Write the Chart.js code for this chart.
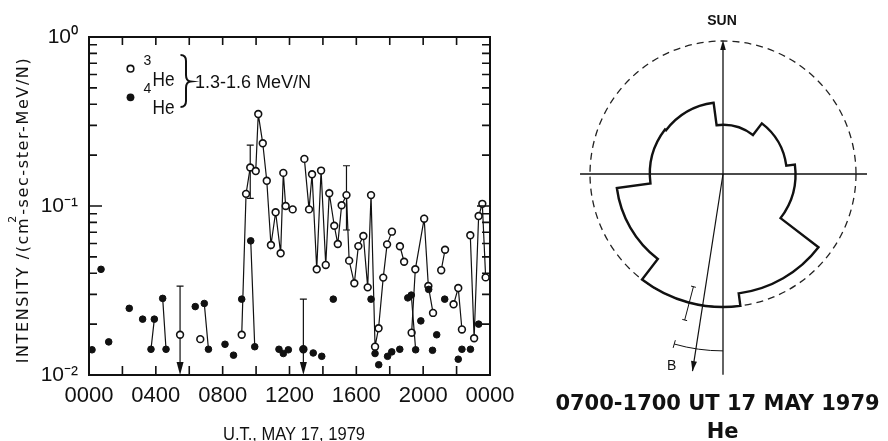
<!DOCTYPE html>
<html>
<head>
<meta charset="utf-8">
<script src="https://cdn.jsdelivr.net/npm/chart.js@4.4.1/dist/chart.umd.min.js"></script>
<style>
body { margin: 0; background: #fff; width: 888px; height: 441px; overflow: hidden; position: relative; }
#timeCanvas { position: absolute; left: 0; top: 0; }
#roseCanvas { position: absolute; left: 540px; top: 0; }
</style>
</head>
<body>
<canvas id="timeCanvas" width="540" height="441"></canvas>
<canvas id="roseCanvas" width="348" height="441"></canvas>
<script>
// Time profile, hours UT on 17 May 1979 (null value = gap in the line)
var he3Hours = [5.45, 5.45, 6.66, 6.66,
	9.14, 9.40, 9.65, 9.98, 10.13, 10.40, 10.64, 10.89, 11.17, 11.47, 11.63, 11.77, 12.19, 12.19,
	12.83, 12.83,
	12.89, 13.17, 13.35, 13.63, 13.89, 14.17, 14.38, 14.68, 14.89, 15.12, 15.41, 15.57, 15.88, 16.12,
	16.42, 16.68, 16.88, 17.12, 17.33, 17.61, 17.84, 18.13, 18.13,
	18.61, 18.86, 18.86,
	19.31, 19.53, 20.06, 20.31, 20.59, 20.59,
	21.08, 21.31, 21.31,
	21.82, 22.10, 22.32, 22.32,
	22.82, 23.05, 23.32, 23.54, 23.74];
var he3Values = [0.0173, null, 0.0163, null,
	0.0173, 0.118, 0.169, 0.161, 0.350, 0.235, 0.141, 0.0588, 0.0918, 0.0525, 0.157, 0.100, 0.0955, null,
	0.0142, null,
	0.190, 0.0955, 0.154, 0.0422, 0.162, 0.0448, 0.119, 0.0764, 0.0596, 0.101, 0.116, 0.0475, 0.0349, 0.0579,
	0.0664, 0.0330, 0.116, 0.0147, 0.0189, 0.0377, 0.0593, 0.0705, null,
	0.0578, 0.0468, null,
	0.0178, 0.0422, 0.0841, 0.0336, 0.0233, null,
	0.0417, 0.0551, null,
	0.0262, 0.0327, 0.0186, null,
	0.0671, 0.0165, 0.0872, 0.103, 0.0378];

var he4Hours = [0.18, 0.18, 0.72, 0.72, 1.18, 1.18, 2.41, 2.41, 3.21, 3.21, 3.71, 3.91, 3.91, 4.41, 4.61, 4.61,
	6.36, 6.36, 6.90, 7.15, 7.15, 8.14, 8.14, 8.65, 8.65, 9.14, 9.14, 9.68, 9.92, 9.92,
	11.37, 11.37, 11.63, 11.63, 11.93, 11.93, 12.83, 12.83, 13.42, 13.42, 13.93, 13.93, 14.62, 14.62,
	16.88, 16.88, 17.12, 17.12, 17.34, 17.34, 17.87, 17.87, 18.12, 18.12, 18.60, 18.60, 19.08, 19.08,
	19.29, 19.55, 19.55, 19.86, 19.86, 20.33, 20.33, 20.56, 20.56, 20.81, 20.81, 21.29, 21.29,
	22.10, 22.10, 22.32, 22.32, 22.83, 22.83, 23.32];
var he4Values = [0.0141, null, 0.0422, null, 0.0157, null, 0.0248, null, 0.0214, null, 0.0142, 0.0214, null, 0.0284, 0.0142, null,
	0.0254, null, 0.0265, 0.0142, null, 0.0152, null, 0.0131, null, 0.0281, null, 0.0622, 0.0147, null,
	0.0142, null, 0.0134, null, 0.0141, null, 0.0142, null, 0.0135, null, 0.0129, null, 0.0281, null,
	0.0281, null, 0.0134, null, 0.0115, null, 0.0129, null, 0.0137, null, 0.0142, null, 0.0286, null,
	0.0297, 0.0141, null, 0.0209, null, 0.0321, null, 0.0140, null, 0.0173, null, 0.0281, null,
	0.0124, null, 0.0142, null, 0.0142, null, 0.0200];

// 3He error bars (low null = upper limit, arrow to axis)
var errHours = [5.45, 9.65, 12.83, 15.41];
var errLow = [null, 0.111, null, 0.0721];
var errHigh = [0.0336, 0.229, 0.0281, 0.173];

var hourTicks = [0, 4, 8, 12, 16, 20, 24];
var hourLabels = ["0000", "0400", "0800", "1200", "1600", "2000", "0000"];
var decadeTicks = [0.01, 0.1, 1];
var decadeLabels = ["10\u207B\u00B2", "10\u207B\u00B9", "10\u2070"];

// Angular distribution: 8 sectors of 45 deg, the first starts 7.5 deg before the sun direction
var sectorLabels = ["15", "60", "105", "150", "195", "240", "285", "330"];
var sectorIntensity = [0.37, 0.48, 0.545, 0.905, 1.0, 0.805, 0.55, 0.54];
var sectorStart = -7.5;
var bFieldAngle = 188.8;
var bSpread = [180, 196];
var errAngle = 194.7;
var errRange = [0.876, 1.135];

var sans = "'Liberation Sans', Arial, sans-serif";
var ink = "#111";

function toPoints(hours, values) {
	var pts = [];
	for (var i = 0; i < hours.length; i++) {
		pts.push({x: hours[i], y: values[i]});
	}
	return pts;
}

// ---------- left panel ----------
var frameTicks = {
	id: "frameTicks",
	afterDraw: function(chart) {
		var ctx = chart.ctx;
		var a = chart.chartArea;
		var xs = chart.scales.x;
		var ys = chart.scales.y;
		ctx.save();
		ctx.strokeStyle = ink;
		ctx.lineWidth = 2;
		ctx.strokeRect(a.left, a.top, a.right - a.left, a.bottom - a.top);
		ctx.lineWidth = 1.6;
		ctx.beginPath();
		for (var h = 2; h < 24; h += 2) {
			var px = xs.getPixelForValue(h);
			ctx.moveTo(px, a.bottom);
			ctx.lineTo(px, a.bottom - 9);
			ctx.moveTo(px, a.top);
			ctx.lineTo(px, a.top + 8);
		}
		for (var e = -2; e < 0; e++) {
			for (var k = 1; k < 10; k++) {
				if (k === 1 && e === -2) continue;
				var py = ys.getPixelForValue(k * Math.pow(10, e));
				var len = k === 1 ? 13 : 8;
				ctx.moveTo(a.left, py);
				ctx.lineTo(a.left + len, py);
				ctx.moveTo(a.right, py);
				ctx.lineTo(a.right - len, py);
			}
		}
		ctx.stroke();
		ctx.restore();
	}
};

var errorBars = {
	id: "errorBars",
	beforeDatasetsDraw: function(chart) {
		var ctx = chart.ctx;
		var a = chart.chartArea;
		var xs = chart.scales.x;
		var ys = chart.scales.y;
		ctx.save();
		ctx.strokeStyle = ink;
		ctx.fillStyle = ink;
		ctx.lineWidth = 1.2;
		for (var i = 0; i < errHours.length; i++) {
			var px = xs.getPixelForValue(errHours[i]);
			var top = ys.getPixelForValue(errHigh[i]);
			var low = errLow[i] === null ? a.bottom - 10 : ys.getPixelForValue(errLow[i]);
			ctx.beginPath();
			ctx.moveTo(px, top);
			ctx.lineTo(px, low);
			ctx.moveTo(px - 3.5, top);
			ctx.lineTo(px + 3.5, top);
			if (errLow[i] !== null) {
				ctx.moveTo(px - 3.5, low);
				ctx.lineTo(px + 3.5, low);
			}
			ctx.stroke();
			if (errLow[i] === null) {
				ctx.beginPath();
				ctx.moveTo(px - 3.5, a.bottom - 13);
				ctx.lineTo(px + 3.5, a.bottom - 13);
				ctx.lineTo(px, a.bottom);
				ctx.closePath();
				ctx.fill();
			}
		}
		ctx.restore();
	}
};

var legendAndTitles = {
	id: "legendAndTitles",
	afterDraw: function(chart) {
		var ctx = chart.ctx;
		ctx.save();
		ctx.fillStyle = ink;
		ctx.strokeStyle = ink;

		// legend symbols
		ctx.lineWidth = 1.6;
		ctx.beginPath();
		ctx.arc(130.5, 68.7, 3.3, 0, Math.PI * 2);
		ctx.fillStyle = "#fff";
		ctx.fill();
		ctx.stroke();
		ctx.fillStyle = ink;
		ctx.beginPath();
		ctx.arc(130.5, 97.3, 3.9, 0, Math.PI * 2);
		ctx.fill();

		ctx.textBaseline = "alphabetic";
		ctx.textAlign = "left";
		ctx.font = "14px " + sans;
		ctx.fillText("3", 143.5, 65);
		ctx.fillText("4", 143.5, 93);
		ctx.save();
		ctx.translate(152.5, 0);
		ctx.scale(0.82, 1);
		ctx.font = "21px " + sans;
		ctx.fillText("He", 0, 86);
		ctx.fillText("He", 0, 113.5);
		ctx.restore();

		// brace
		ctx.lineWidth = 2;
		ctx.beginPath();
		ctx.moveTo(180.5, 55);
		ctx.quadraticCurveTo(186, 55, 186, 61);
		ctx.lineTo(186, 75);
		ctx.quadraticCurveTo(186, 81, 190.5, 81.5);
		ctx.quadraticCurveTo(186, 82, 186, 88);
		ctx.lineTo(186, 101);
		ctx.quadraticCurveTo(186, 107, 180.5, 107);
		ctx.stroke();

		ctx.font = "18px " + sans;
		ctx.fillText("1.3-1.6 MeV/N", 195, 88);

		// x title
		ctx.save();
		ctx.translate(294, 440);
		ctx.scale(0.87, 1);
		ctx.textAlign = "center";
		ctx.font = "19px " + sans;
		ctx.fillText("U.T., MAY 17, 1979", 0, 0);
		ctx.restore();

		// y title, rotated
		ctx.save();
		ctx.translate(28.3, 210);
		ctx.rotate(-Math.PI / 2);
		ctx.letterSpacing = "1.6px";
		ctx.font = "16px 'DejaVu Sans', sans-serif";
		var part1 = "INTENSITY /(cm";
		var part2 = "-sec-ster-MeV/N)";
		var w1 = ctx.measureText(part1).width;
		var w2 = ctx.measureText(part2).width;
		var total = w1 + w2 + 2;
		var x0 = -total / 2;
		ctx.fillText(part1, x0, 0);
		ctx.fillText(part2, x0 + w1 + 2, 0);
		ctx.font = "11px 'DejaVu Sans', sans-serif";
		ctx.fillText("2", x0 + w1 - 6, -12);
		ctx.restore();

		ctx.restore();
	}
};

var timeChart = new Chart(document.getElementById("timeCanvas"), {
	type: "line",
	data: {
		datasets: [{
			label: "4He",
			data: toPoints(he4Hours, he4Values),
			borderColor: ink,
			borderWidth: 1.2,
			pointRadius: 3.3,
			pointBorderWidth: 1,
			pointBackgroundColor: ink,
			pointBorderColor: ink,
			spanGaps: false,
			tension: 0
		}, {
			label: "3He",
			data: toPoints(he3Hours, he3Values),
			borderColor: ink,
			borderWidth: 1.2,
			pointRadius: 3.4,
			pointBorderWidth: 1.6,
			pointBackgroundColor: "#fff",
			pointBorderColor: ink,
			spanGaps: false,
			tension: 0
		}]
	},
	options: {
		responsive: false,
		animation: false,
		layout: {padding: {left: 0, right: 50, top: 37, bottom: 0}},
		plugins: {legend: {display: false}, tooltip: {enabled: false}},
		scales: {
			x: {
				type: "linear",
				min: 0,
				max: 24,
				afterFit: function(s) { s.height = 66; },
				afterBuildTicks: function(s) { s.ticks = hourTicks.map(function(v) { return {value: v}; }); },
				ticks: {
					callback: function(v, i) { return hourLabels[i]; },
					font: {family: sans, size: 22},
					color: ink,
					padding: 8,
					maxRotation: 0,
					autoSkip: false
				},
				grid: {display: false, drawTicks: false},
				border: {display: false}
			},
			y: {
				type: "logarithmic",
				min: 0.01,
				max: 1,
				afterFit: function(s) { s.width = 89; },
				afterBuildTicks: function(s) { s.ticks = decadeTicks.map(function(v) { return {value: v}; }); },
				ticks: {
					callback: function(v, i) { return decadeLabels[i]; },
					font: {family: sans, size: 21},
					color: ink,
					padding: 11
				},
				grid: {display: false, drawTicks: false},
				border: {display: false}
			}
		}
	},
	plugins: [errorBars, frameTicks, legendAndTitles]
});

// ---------- right panel ----------
var roseDecor = {
	id: "roseDecor",
	afterDatasetsDraw: function(chart) {
		var ctx = chart.ctx;
		var r = chart.scales.r;
		var cx = r.xCenter;
		var cy = r.yCenter;
		function pt(deg, v) {
			var t = (deg - 90) * Math.PI / 180;
			var d = r.getDistanceFromCenterForValue(v);
			return [cx + d * Math.cos(t), cy + d * Math.sin(t)];
		}
		ctx.save();
		ctx.strokeStyle = ink;
		ctx.fillStyle = ink;

		// axes through the centre
		ctx.lineWidth = 1.3;
		ctx.beginPath();
		var p = pt(270, 1.075); ctx.moveTo(p[0], p[1]);
		p = pt(90, 1.083); ctx.lineTo(p[0], p[1]);
		p = pt(0, 0.96); ctx.moveTo(p[0], p[1]);
		p = pt(180, 1.51); ctx.lineTo(p[0], p[1]);
		ctx.stroke();
		// sun arrow head
		var tip = pt(0, 1.007);
		ctx.beginPath();
		ctx.moveTo(tip[0], tip[1]);
		ctx.lineTo(tip[0] - 2.8, tip[1] + 10);
		ctx.lineTo(tip[0] + 2.8, tip[1] + 10);
		ctx.closePath();
		ctx.fill();

		// sector outline from the arc elements
		var arcs = chart.getDatasetMeta(0).data;
		ctx.lineWidth = 2.4;
		ctx.lineJoin = "miter";
		ctx.beginPath();
		arcs.forEach(function(el) {
			var q = el.getProps(["x", "y", "startAngle", "endAngle", "outerRadius"]);
			ctx.arc(q.x, q.y, q.outerRadius, q.startAngle, q.endAngle);
		});
		ctx.closePath();
		ctx.stroke();

		// field direction B
		ctx.lineWidth = 1.2;
		var b0 = pt(bFieldAngle, 0);
		var b1 = pt(bFieldAngle, 1.5);
		ctx.beginPath();
		ctx.moveTo(b0[0], b0[1]);
		ctx.lineTo(b1[0], b1[1]);
		ctx.stroke();
		var ang = Math.atan2(b1[1] - b0[1], b1[0] - b0[0]);
		ctx.beginPath();
		ctx.moveTo(b1[0], b1[1]);
		ctx.lineTo(b1[0] - 10 * Math.cos(ang) + 3 * Math.sin(ang), b1[1] - 10 * Math.sin(ang) - 3 * Math.cos(ang));
		ctx.lineTo(b1[0] - 10 * Math.cos(ang) - 3 * Math.sin(ang), b1[1] - 10 * Math.sin(ang) + 3 * Math.cos(ang));
		ctx.closePath();
		ctx.fill();

		// spread of B
		ctx.lineWidth = 1;
		var rs = r.getDistanceFromCenterForValue(1.33);
		ctx.beginPath();
		ctx.arc(cx, cy, rs, (bSpread[0] - 90) * Math.PI / 180, (bSpread[1] - 90) * Math.PI / 180);
		ctx.stroke();
		ctx.beginPath();
		p = pt(bSpread[1], 1.30); ctx.moveTo(p[0], p[1]);
		p = pt(bSpread[1], 1.36); ctx.lineTo(p[0], p[1]);
		ctx.stroke();

		// radial error bar on the largest sector
		var e0 = pt(errAngle, errRange[0]);
		var e1 = pt(errAngle, errRange[1]);
		ctx.beginPath();
		ctx.moveTo(e0[0], e0[1]);
		ctx.lineTo(e1[0], e1[1]);
		var ea = Math.atan2(e1[1] - e0[1], e1[0] - e0[0]);
		[e0, e1].forEach(function(e) {
			ctx.moveTo(e[0] - 2.5 * Math.sin(ea), e[1] + 2.5 * Math.cos(ea));
			ctx.lineTo(e[0] + 2.5 * Math.sin(ea), e[1] - 2.5 * Math.cos(ea));
		});
		ctx.stroke();

		// labels
		ctx.textAlign = "center";
		ctx.textBaseline = "alphabetic";
		ctx.font = "bold 14px " + sans;
		ctx.fillText("SUN", cx - 1, 25);
		ctx.font = "14px " + sans;
		ctx.fillText("B", 131.7, 370);
		ctx.font = "bold 21px 'DejaVu Sans', sans-serif";
		ctx.fillText("0700-1700 UT 17 MAY 1979", 177.5, 410);
		ctx.fillText("He", 182.7, 438);
		ctx.restore();
	}
};

var roseChart = new Chart(document.getElementById("roseCanvas"), {
	type: "polarArea",
	data: {
		labels: sectorLabels,
		datasets: [{
			data: sectorIntensity,
			backgroundColor: "rgba(0,0,0,0)",
			borderWidth: 0
		}]
	},
	options: {
		responsive: false,
		animation: false,
		layout: {padding: {left: 50, top: 41, right: 32, bottom: 134}},
		plugins: {legend: {display: false}, tooltip: {enabled: false}},
		scales: {
			r: {
				min: 0,
				max: 1,
				startAngle: sectorStart,
				ticks: {display: false, stepSize: 1},
				grid: {circular: true, color: "#222", lineWidth: 1.3},
				border: {dash: [7, 5]},
				angleLines: {display: false},
				pointLabels: {display: false}
			}
		}
	},
	plugins: [roseDecor]
});
</script>
</body>
</html>
